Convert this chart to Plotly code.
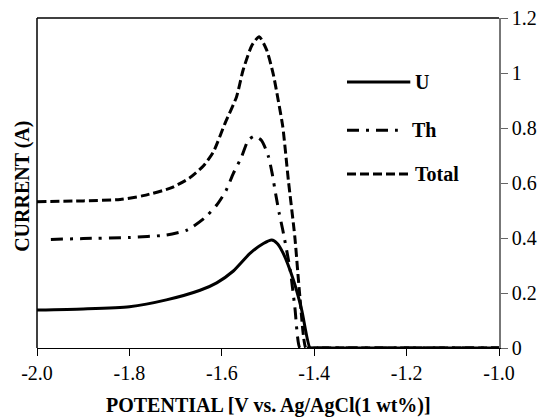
import plotly.graph_objects as go

# ---- data ----
u_x = [-2.00, -1.90, -1.80, -1.72, -1.647, -1.611, -1.575, -1.539, -1.510, -1.492, -1.480, -1.467, -1.445, -1.427, -1.409, -1.40, -1.0]
u_y = [0.138, 0.142, 0.150, 0.175, 0.210, 0.237, 0.280, 0.344, 0.380, 0.393, 0.380, 0.344, 0.247, 0.138, 0.0, 0.0, 0.0]

th_x = [-1.97, -1.90, -1.80, -1.72, -1.675, -1.638, -1.611, -1.591, -1.575, -1.557, -1.543, -1.530, -1.514, -1.499, -1.491, -1.483, -1.476, -1.468, -1.452, -1.442, -1.431, -1.42, -1.0]
th_y = [0.395, 0.398, 0.402, 0.411, 0.429, 0.472, 0.520, 0.572, 0.635, 0.696, 0.755, 0.770, 0.755, 0.696, 0.635, 0.556, 0.492, 0.429, 0.284, 0.150, 0.0, 0.0, 0.0]

tot_x = [-2.00, -1.90, -1.82, -1.77, -1.71, -1.67, -1.64, -1.618, -1.593, -1.568, -1.554, -1.535, -1.519, -1.503, -1.489, -1.478, -1.468, -1.456, -1.442, -1.431, -1.418, -1.41, -1.0]
tot_y = [0.532, 0.535, 0.540, 0.554, 0.582, 0.618, 0.662, 0.714, 0.817, 0.914, 1.010, 1.100, 1.132, 1.084, 0.999, 0.902, 0.805, 0.611, 0.405, 0.187, 0.0, 0.0, 0.0]

x_ticks = [-2.0, -1.8, -1.6, -1.4, -1.2, -1.0]
x_ticktext = ["-2.0", "-1.8", "-1.6", "-1.4", "-1.2", "-1.0"]
y_ticks = [0, 0.2, 0.4, 0.6, 0.8, 1.0, 1.2]
y_ticktext = ["0", "0.2", "0.4", "0.6", "0.8", "1", "1.2"]

series_names = ["U", "Th", "Total"]

FONT = "Liberation Serif"
SOLID = "solid"
DASHDOT = "12px,7px,3px,7px"
DASH = "9px,4px"

fig = go.Figure()
fig.add_trace(go.Scatter(x=u_x, y=u_y, mode="lines", name=series_names[0],
                         line=dict(color="black", width=3, dash=SOLID, shape="spline", smoothing=0.6)))
fig.add_trace(go.Scatter(x=th_x, y=th_y, mode="lines", name=series_names[1],
                         line=dict(color="black", width=3, dash=DASHDOT, shape="spline", smoothing=0.6)))
fig.add_trace(go.Scatter(x=tot_x, y=tot_y, mode="lines", name=series_names[2],
                         line=dict(color="black", width=3, dash=DASH, shape="spline", smoothing=0.6)))

tickfont = dict(family=FONT, size=20, color="black")

fig.update_layout(
    width=555, height=419,
    margin=dict(l=37, r=56, t=18, b=71, autoexpand=False),
    paper_bgcolor="white", plot_bgcolor="white",
    showlegend=False,
    xaxis=dict(range=[-2.0, -1.0], tickvals=x_ticks, ticktext=x_ticktext,
               ticks="outside", ticklen=7, tickcolor="black", tickwidth=1,
               showline=True, linecolor="black", linewidth=1, automargin=False,
               showgrid=False, zeroline=False, tickfont=tickfont, anchor="y"),
    xaxis2=dict(range=[-2.0, -1.0], tickvals=x_ticks, overlaying="x", side="bottom",
                ticks="inside", ticklen=8, tickcolor="black", tickwidth=1, automargin=False,
                showticklabels=False, showline=False, showgrid=False, zeroline=False,
                anchor="y"),
    yaxis=dict(range=[0, 1.2], tickvals=y_ticks, ticktext=y_ticktext, side="right",
               ticks="outside", ticklen=7, tickcolor="#666666", tickwidth=1,
               showline=True, linecolor="#777777", linewidth=1.5, automargin=False,
               showgrid=False, zeroline=False, tickfont=tickfont, anchor="x"),
    yaxis2=dict(range=[0, 1.2], tickvals=y_ticks, overlaying="y", side="right",
                ticks="inside", ticklen=7, tickcolor="#666666", tickwidth=1, automargin=False,
                showticklabels=False, showline=False, showgrid=False, zeroline=False,
                anchor="x"),
)

# border lines (left, top)
fig.add_shape(type="line", xref="paper", yref="paper", x0=0, x1=0, y0=0, y1=1,
              line=dict(color="black", width=1.5))
fig.add_shape(type="line", xref="paper", yref="paper", x0=0, x1=1, y0=1, y1=1,
              line=dict(color="black", width=1.5))

# legend drawn manually (long sample lines like the original)
leg_y = [0.806, 0.660, 0.527]
leg_x1 = [0.808, 0.781, 0.808]
leg_text_x = [0.814, 0.808, 0.814]
leg_dash = [SOLID, DASHDOT, DASH]
for name, yy, x1, tx, dsh in zip(series_names, leg_y, leg_x1, leg_text_x, leg_dash):
    fig.add_shape(type="line", xref="paper", yref="paper", x0=0.671, x1=x1, y0=yy, y1=yy,
                  line=dict(color="black", width=3, dash=dsh))
    fig.add_annotation(xref="paper", yref="paper", x=tx, y=yy, text="<b>%s</b>" % name,
                       showarrow=False, xanchor="left", yanchor="middle",
                       font=dict(family=FONT, size=20, color="black"))

# axis titles
fig.add_annotation(xref="paper", yref="paper", x=0.5, y=-0.173,
                   text="<b>POTENTIAL [V vs. Ag/AgCl(1 wt%)]</b>", showarrow=False,
                   xanchor="center", yanchor="middle",
                   font=dict(family=FONT, size=20, color="black"))
fig.add_annotation(xref="paper", yref="paper", x=-0.032, y=0.489,
                   text="<b>CURRENT (A)</b>", showarrow=False, textangle=-90,
                   xanchor="center", yanchor="middle",
                   font=dict(family=FONT, size=20, color="black"))

fig.write_html("out.html", config={"displayModeBar": False},
               post_script="document.body.style.margin='0';")
